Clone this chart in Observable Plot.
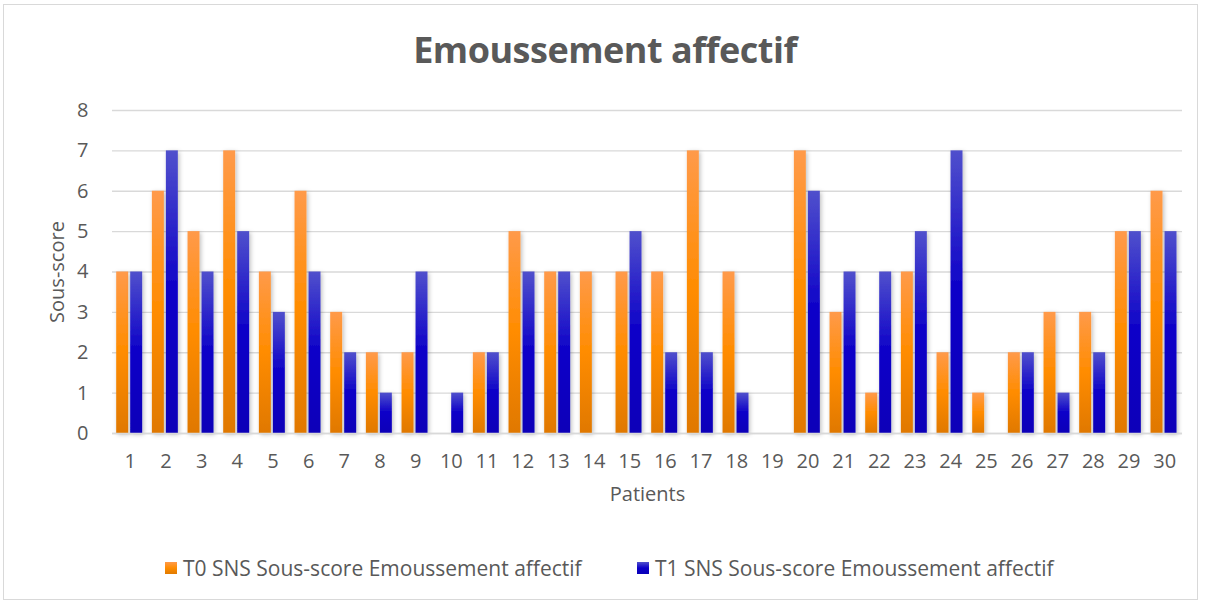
<!DOCTYPE html>
<html>
<head>
<meta charset="utf-8">
<script src="https://cdn.jsdelivr.net/npm/d3@7"></script>
<script src="https://cdn.jsdelivr.net/npm/@observablehq/plot@0.6"></script>
<style>
  html, body { margin: 0; padding: 0; background: #fff; }
  body { width: 1206px; height: 604px; position: relative; overflow: hidden; font-family: "Open Sans", "Noto Sans", sans-serif; }
  #frame { position: absolute; left: 3px; top: 4px; width: 1195px; height: 596px; border: 1.5px solid #d9d9d9; box-sizing: border-box; }
  #title { position: absolute; left: 2px; top: 25px; width: 1206px; text-align: center; font-size: 36px; font-weight: 700; color: #595959; letter-spacing: -0.5px; }
  #chart { position: absolute; left: 0; top: 95px; }
  #legend { position: absolute; top: 554px; left: 0; width: 1206px; font-size: 21px; color: #595959; }
  .item { position: absolute; display: flex; align-items: center; white-space: nowrap; }
  .sw { width: 12px; height: 12px; margin-right: 6px; }
</style>
</head>
<body>
<div id="frame"></div>
<div id="title">Emoussement affectif</div>
<div id="chart"></div>
<div id="legend">
  <div class="item" style="left:165px"><div class="sw" style="background:linear-gradient(#ff9a4a,#ff8c00,#e07a00)"></div><span id="l0"></span></div>
  <div class="item" style="left:637px"><div class="sw" style="background:linear-gradient(#5050cc,#0c00c8,#0800b8)"></div><span id="l1"></span></div>
</div>
<script>
const patients = d3.range(1, 31).map(String);
const t0 = [4,6,5,7,4,6,3,2,2,0,2,5,4,4,4,4,7,4,0,7,3,1,4,2,1,2,3,3,5,6];
const t1 = [4,7,4,5,3,4,2,1,4,1,2,4,4,0,5,2,2,1,0,6,4,4,5,7,0,2,1,2,5,5];
const seriesNames = ["T0 SNS Sous-score Emoussement affectif", "T1 SNS Sous-score Emoussement affectif"];
const yTicks = [0,1,2,3,4,5,6,7,8];

document.getElementById("l0").textContent = seriesNames[0];
document.getElementById("l1").textContent = seriesNames[1];

const d0 = patients.map((p, i) => ({patient: p, value: t0[i]}));
const d1 = patients.map((p, i) => ({patient: p, value: t1[i]}));

const defs = () => {
  const ns = "http://www.w3.org/2000/svg";
  const g = document.createElementNS(ns, "defs");
  g.innerHTML = `
    <linearGradient id="gO" x1="0" y1="0" x2="0" y2="1">
      <stop offset="0" stop-color="#ff9a4a"/>
      <stop offset="0.5" stop-color="#ff8c00"/>
      <stop offset="1" stop-color="#e07800"/>
    </linearGradient>
    <linearGradient id="gB" x1="0" y1="0" x2="0" y2="1">
      <stop offset="0" stop-color="#5050cc"/>
      <stop offset="0.5" stop-color="#0c00c8"/>
      <stop offset="1" stop-color="#0800b8"/>
    </linearGradient>
    <filter id="sh" x="-50%" y="-10%" width="200%" height="120%">
      <feDropShadow dx="1.5" dy="1.5" stdDeviation="2" flood-color="#000" flood-opacity="0.25"/>
    </filter>`;
  return g;
};

const chart = Plot.plot({
  width: 1206,
  height: 420,
  marginLeft: 112,
  marginRight: 24,
  marginTop: 15,
  marginBottom: 82,
  style: { fontFamily: "'Open Sans', 'Noto Sans', sans-serif", fontSize: "20px", color: "#595959", background: "transparent" },
  x: { domain: patients, padding: 0, round: false, label: null },
  y: { domain: [0, 8], ticks: yTicks, label: null },
  marks: [
    defs,
    Plot.gridY(yTicks, { stroke: "#d9d9d9", strokeOpacity: 1, strokeWidth: 1.4 }),
    Plot.barY(d0, { x: "patient", y: "value", fill: "url(#gO)", insetLeft: 4.2, insetRight: 19.5 }),
    Plot.barY(d1, { x: "patient", y: "value", fill: "url(#gB)", insetLeft: 18.2, insetRight: 5.5 }),
    Plot.ruleY([0], { stroke: "#d9d9d9", strokeWidth: 1.6 }),
    Plot.axisY(yTicks, { tickSize: 0, tickPadding: 24, fontSize: 20, fill: "#595959", label: null }),
    Plot.axisX({ tickSize: 0, tickPadding: 20, fontSize: 20, fill: "#595959", label: null }),
    Plot.text(["Sous-score"], { frameAnchor: "left", textAnchor: "middle", dx: -55, rotate: -90, fontSize: 20, fill: "#595959" }),
    Plot.text(["Patients"], { frameAnchor: "bottom", dy: 67, fontSize: 20, fill: "#595959" })
  ]
});
d3.select(chart).selectAll("rect").filter(function(){ const f = this.parentNode.getAttribute("fill") || this.getAttribute("fill"); return f && f.startsWith("url"); }).attr("filter", "url(#sh)");
document.getElementById("chart").appendChild(chart);
</script>
</body>
</html>
